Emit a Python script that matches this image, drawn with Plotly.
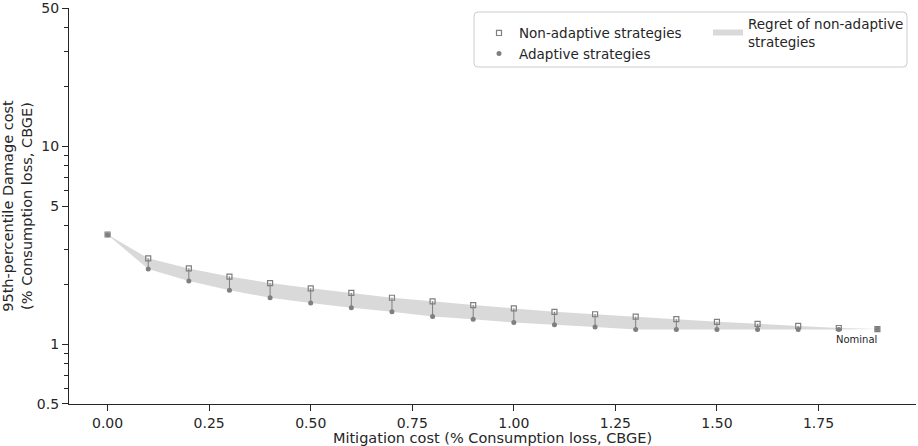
import math
import plotly.graph_objects as go

# Mitigation cost of each strategy (% consumption loss, CBGE)
mitigation_cost = [0.0, 0.1, 0.2, 0.3, 0.4, 0.5, 0.6, 0.7, 0.8, 0.9,
                   1.0, 1.1, 1.2, 1.3, 1.4, 1.5, 1.6, 1.7, 1.8, 1.895]

# 95th-percentile damage cost (% consumption loss, CBGE)
non_adaptive = [3.59, 2.72, 2.42, 2.20, 2.04, 1.92, 1.82, 1.72, 1.65, 1.58,
                1.52, 1.46, 1.42, 1.38, 1.34, 1.30, 1.27, 1.24, 1.21, 1.195]
adaptive = [3.58, 2.40, 2.09, 1.875, 1.72, 1.62, 1.53, 1.46, 1.385, 1.34,
            1.29, 1.256, 1.223, 1.19, 1.19, 1.19, 1.19, 1.19, 1.19, 1.195]

x_ticks = [0.0, 0.25, 0.5, 0.75, 1.0, 1.25, 1.5, 1.75]
y_ticks = [0.5, 1, 5, 10, 50]
y_minor = [0.6, 0.7, 0.8, 0.9, 2, 3, 4, 6, 7, 8, 9, 20, 30, 40]

W, H = 918, 446
M_L, M_R, M_T, M_B = 69, 2, 8, 42
PW, PH = W - M_L - M_R, H - M_T - M_B

FONT = "DejaVu Sans"
INK = "#262626"
MARK = "#7f7f7f"
BAND = "#d9d9d9"


def px_to_paper(px, py):
    return (px - M_L) / PW, (H - M_B - py) / PH


fig = go.Figure()

# regret band: closed polygon between non-adaptive and adaptive outcomes
band_x = mitigation_cost + mitigation_cost[::-1]
band_y = non_adaptive + adaptive[::-1]
fig.add_trace(go.Scatter(x=band_x, y=band_y, mode="none",
                         fill="toself", fillcolor=BAND,
                         name="Regret of non-adaptive<br>strategies",
                         legend="legend2", hoverinfo="skip"))

# vertical connectors between paired strategies
seg_x, seg_y = [], []
for xv, a, b in zip(mitigation_cost, adaptive, non_adaptive):
    seg_x += [xv, xv, None]
    seg_y += [a, b, None]
fig.add_trace(go.Scatter(x=seg_x, y=seg_y, mode="lines",
                         line=dict(color=MARK, width=1), showlegend=False,
                         hoverinfo="skip"))

fig.add_trace(go.Scatter(x=mitigation_cost, y=non_adaptive, mode="markers",
                         name="Non-adaptive strategies",
                         marker=dict(symbol="square-open", size=5, color=MARK,
                                     line=dict(width=1.2, color=MARK))))
fig.add_trace(go.Scatter(x=mitigation_cost, y=adaptive, mode="markers",
                         name="Adaptive strategies",
                         marker=dict(symbol="circle", size=5, color=MARK,
                                     line=dict(width=0))))

fig.add_annotation(x=mitigation_cost[-1], y=math.log10(adaptive[-1]),
                   xref="x", yref="y", text="Nominal", showarrow=False,
                   xanchor="right", yanchor="top", yshift=-3, xshift=2,
                   font=dict(family=FONT, size=10, color=INK))

# legend frame enclosing both legend groups
x0, y0 = px_to_paper(474, 67)
x1, y1 = px_to_paper(907, 12)
rx, ry = 4 / PW, 4 / PH
frame = (f"M{x0 + rx},{y0} L{x1 - rx},{y0} Q{x1},{y0} {x1},{y0 + ry} "
         f"L{x1},{y1 - ry} Q{x1},{y1} {x1 - rx},{y1} L{x0 + rx},{y1} "
         f"Q{x0},{y1} {x0},{y1 - ry} L{x0},{y0 + ry} Q{x0},{y0} {x0 + rx},{y0} Z")
fig.add_shape(type="path", path=frame, xref="paper", yref="paper",
              line=dict(color="#cccccc", width=1), fillcolor="rgba(255,255,255,0.8)",
              layer="above")

lx1, ly1 = px_to_paper(479, 17.7)
lx2, ly2 = px_to_paper(708, 8.5)

axis_common = dict(showline=True, linecolor=INK, linewidth=1.25, ticks="outside",
                   ticklen=6, tickwidth=1.25, tickcolor=INK, showgrid=False,
                   zeroline=False, mirror=False, ticklabeloverflow="allow",
                   tickfont=dict(family=FONT, size=14, color=INK))

fig.update_layout(
    width=W, height=H,
    margin=dict(l=M_L, r=M_R, t=M_T, b=M_B, autoexpand=False),
    paper_bgcolor="white", plot_bgcolor="white",
    font=dict(family=FONT, color=INK),
    xaxis=dict(range=[-0.095, 1.99], tickmode="array", tickvals=x_ticks,
               tickformat=".2f",
               title=dict(text="Mitigation cost (% Consumption loss, CBGE)",
                          font=dict(family=FONT, size=14.5, color=INK),
                          standoff=2),
               **axis_common),
    yaxis=dict(type="log", range=[math.log10(0.5) - 1e-4, math.log10(50) + 1e-4],
               tickmode="array", tickvals=y_ticks,
               ticktext=[f"{v:g}" for v in y_ticks],
               minor=dict(tickmode="array", tickvals=y_minor, ticks="outside",
                          ticklen=3.5, tickwidth=1, tickcolor=INK, showgrid=False),
               title=dict(text="95th-percentile Damage cost<br>(% Consumption loss, CBGE)",
                          font=dict(family=FONT, size=14.5, color=INK),
                          standoff=0),
               **axis_common),
    legend=dict(x=lx1, y=ly1, xanchor="left", yanchor="top",
                bgcolor="rgba(0,0,0,0)", borderwidth=0,
                font=dict(family=FONT, size=13.5, color=INK),
                traceorder="normal"),
    legend2=dict(x=lx2, y=ly2, xanchor="left", yanchor="top",
                 bgcolor="rgba(0,0,0,0)", borderwidth=0,
                 font=dict(family=FONT, size=13.5, color=INK)),
    showlegend=True,
)

fig.write_html("out.html")
